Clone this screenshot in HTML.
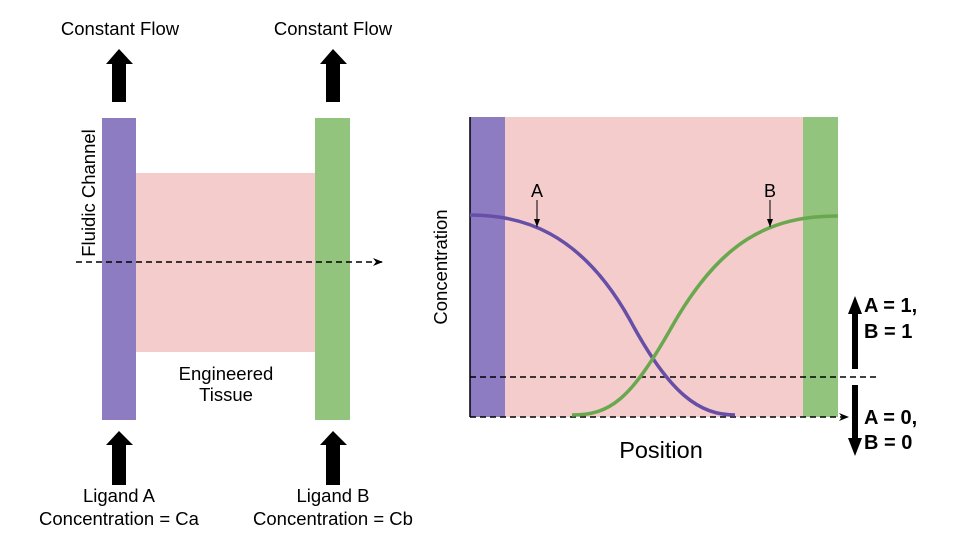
<!DOCTYPE html>
<html><head><meta charset="utf-8"><style>html,body{margin:0;padding:0;background:#fff}svg{display:block}text{font-family:"Liberation Sans",Arial,sans-serif}</style></head>
<body>
<svg width="960" height="540" viewBox="0 0 960 540" xmlns="http://www.w3.org/2000/svg">
<defs>
<marker id="ah" markerWidth="10" markerHeight="8" refX="9" refY="4" orient="auto" markerUnits="userSpaceOnUse"><path d="M0,0 L10,4 L0,8 L3,4 Z" fill="#000"/></marker>
<marker id="sa" markerWidth="6" markerHeight="8" refX="3" refY="8" orient="0" markerUnits="userSpaceOnUse"><path d="M0,0 L3,8 L6,0 Z" fill="#000"/></marker>
</defs>
<rect x="136" y="173" width="179" height="179" fill="#f4cccc"/>
<rect x="102" y="118" width="34" height="302" fill="#8e7cc3"/>
<rect x="315" y="118" width="35" height="302" fill="#93c47d"/>
<line x1="76" y1="262" x2="382" y2="262" stroke="#000" stroke-width="1.5" stroke-dasharray="6,4" marker-end="url(#ah)"/>
<text x="120" y="35" font-size="18.5" text-anchor="middle">Constant Flow</text>
<text x="333" y="35" font-size="18.5" text-anchor="middle">Constant Flow</text>
<path d="M112,102 V64 H106 L119,49 L133,64 H126 V102 Z" fill="#000"/>
<path d="M326,102 V64 H320 L333,49 L347,64 H340 V102 Z" fill="#000"/>
<path d="M112,485 V445 H106 L119,431 L133,445 H126 V485 Z" fill="#000"/>
<path d="M326,485 V445 H320 L333,431 L347,445 H340 V485 Z" fill="#000"/>
<text transform="translate(95,193) rotate(-90)" font-size="18.5" text-anchor="middle">Fluidic Channel</text>
<text x="226" y="380" font-size="18.5" text-anchor="middle">Engineered</text>
<text x="226" y="401" font-size="18.5" text-anchor="middle">Tissue</text>
<text x="119" y="502" font-size="18.5" text-anchor="middle">Ligand A</text>
<text x="119" y="525" font-size="18.5" text-anchor="middle">Concentration = Ca</text>
<text x="333" y="502" font-size="18.5" text-anchor="middle">Ligand B</text>
<text x="333" y="525" font-size="18.5" text-anchor="middle">Concentration = Cb</text>
<rect x="505" y="117" width="298" height="300" fill="#f4cccc"/>
<rect x="470" y="117" width="35" height="300" fill="#8e7cc3"/>
<rect x="803" y="117" width="35" height="300" fill="#93c47d"/>
<line x1="470" y1="117" x2="470" y2="417" stroke="#000" stroke-width="1.5"/>
<line x1="470" y1="417" x2="848" y2="417" stroke="#000" stroke-width="1.5" stroke-dasharray="6,4" marker-end="url(#ah)"/>
<line x1="470" y1="377" x2="877" y2="377" stroke="#000" stroke-width="1.5" stroke-dasharray="6,4"/>
<path d="M470,215 C520,215 580,230 630,320 C670,395 700,415 735,415" fill="none" stroke="#674ea7" stroke-width="3.5"/>
<path d="M572,415 C610,415 630,400 670,330 C720,240 770,216 838,216" fill="none" stroke="#6aa84f" stroke-width="3.5"/>
<text x="537" y="197" font-size="18" text-anchor="middle">A</text>
<line x1="537" y1="200" x2="537" y2="227" stroke="#000" stroke-width="1" marker-end="url(#sa)"/>
<text x="770" y="197" font-size="18" text-anchor="middle">B</text>
<line x1="770" y1="200" x2="770" y2="227" stroke="#000" stroke-width="1" marker-end="url(#sa)"/>
<text transform="translate(447,267) rotate(-90)" font-size="18.5" text-anchor="middle">Concentration</text>
<text x="661" y="458" font-size="23.5" text-anchor="middle">Position</text>
<path d="M852,369 V314 H848 L855,296 L862,314 H858 V369 Z" fill="#000"/>
<path d="M852,385 V438 H848 L855,456 L862,438 H858 V385 Z" fill="#000"/>
<text x="864" y="312" font-size="20" font-weight="bold">A = 1,</text>
<text x="864" y="338" font-size="20" font-weight="bold">B = 1</text>
<text x="864" y="424" font-size="20" font-weight="bold">A = 0,</text>
<text x="864" y="449" font-size="20" font-weight="bold">B = 0</text>
</svg>
</body></html>
